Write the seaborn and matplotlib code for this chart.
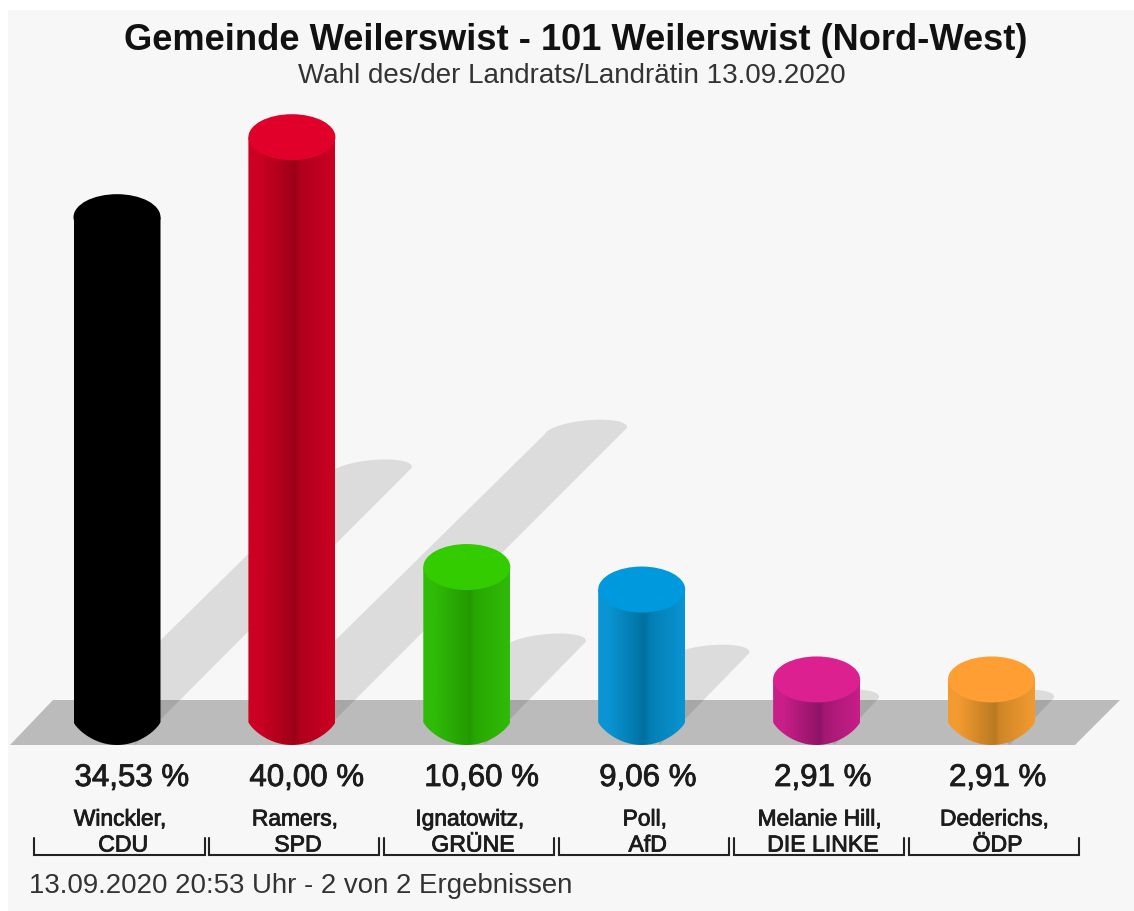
import numpy as np
import pandas as pd
import matplotlib
matplotlib.use("Agg")
import matplotlib.pyplot as plt
import matplotlib.patheffects as pe
from matplotlib.colors import LinearSegmentedColormap, to_rgb
from matplotlib.path import Path
from matplotlib.patches import Ellipse, PathPatch, Polygon, Rectangle
import seaborn as sns

title = "Gemeinde Weilerswist - 101 Weilerswist (Nord-West)"
subtitle = "Wahl des/der Landrats/Landrätin 13.09.2020"
footer = "13.09.2020 20:53 Uhr - 2 von 2 Ergebnissen"
candidates = ["Winckler,", "Ramers,", "Ignatowitz,", "Poll,", "Melanie Hill,", "Dederichs,"]
parties = ["CDU", "SPD", "GRÜNE", "AfD", "DIE LINKE", "ÖDP"]
values = [34.53, 40.00, 10.60, 9.06, 2.91, 2.91]
value_labels = ["34,53 %", "40,00 %", "10,60 %", "9,06 %", "2,91 %", "2,91 %"]
top_colors = ["#000000", "#e0002a", "#33cc00", "#0099dd", "#dd2090", "#ff9f33"]
side_colors = ["#000000", "#cc0022", "#30bb08", "#0a94d3", "#c81e88", "#f39a30"]
dark_colors = ["#000000", "#9c0018", "#239a00", "#00709f", "#8e1466", "#b97a22"]

W, H = 1134, 911
SPACING = 174.9      # px between categories
X0 = 117.0           # px of first category
Y0 = 722.0           # px of value 0
PXY = 14.62          # px per percent
BAR_W = 87 / SPACING
ELL_H = 46 / PXY


def xp(px):
    return (px - X0) / SPACING


def yp(py):
    return (Y0 - py) / PXY


def dx(px):
    return px / SPACING


def dy(px):
    return px / PXY


sns.set_theme(style="white")
plt.rcParams["font.family"] = ["Liberation Sans", "DejaVu Sans"]
fig = plt.figure(figsize=(W / 100, H / 100), dpi=100, facecolor="white")
ax = fig.add_axes([0, 0, 1, 1])
ax.set_facecolor("none")

df = pd.DataFrame({"party": parties, "value": values})
sns.barplot(data=df, x="party", y="value", hue="party", palette=side_colors,
            width=BAR_W, saturation=1, legend=False, ax=ax, zorder=5)
bars = [p for p in ax.patches if isinstance(p, Rectangle)]
ax.set_xlim(xp(0), xp(W))
ax.set_ylim(yp(H), yp(0))
ax.set_axis_off()

# page + floor
ax.add_patch(Rectangle((xp(8), yp(H)), xp(W) - xp(8), yp(10) - yp(H), fc="#f7f7f7", ec="none", zorder=0))
ax.add_patch(Polygon([(xp(10), yp(745)), (xp(1075), yp(745)), (xp(1120), yp(700)), (xp(53), yp(700))],
                     closed=True, fc="#bbbbbb", ec="none", zorder=1))

# shadows: sheared copy of each bar, starting behind the bar
SX = 0.5026 * PXY / SPACING
SY = 0.4975
t = np.linspace(0, np.pi, 40)
for i, v in enumerate(values):
    cx, cy = i + SX * v, SY * v
    capx = cx + dx(41) * np.cos(t) + dx(4) * np.sin(t)
    capy = cy + dy(3) * np.cos(t) + dy(11) * np.sin(t)
    xs = [i + dx(18), *capx]
    ys = [-dy(23), *capy]
    if capy[-1] > dy(39):
        xs.append(i)
        ys.append(dy(39))
    ax.add_patch(Polygon(np.c_[xs, ys], closed=True, fc="black", alpha=0.105, ec="none", zorder=2))

# cylinders
for i, (bar, v) in enumerate(zip(bars, values)):
    x0, w = bar.get_x(), bar.get_width()
    mid = tuple((np.array(to_rgb(side_colors[i])) * 0.4 + np.array(to_rgb(dark_colors[i])) * 0.6))
    cmap = LinearSegmentedColormap.from_list(
        f"c{i}", [(0, side_colors[i]), (0.12, side_colors[i]), (0.54, dark_colors[i]),
                  (0.60, mid), (1, side_colors[i])])
    bar.set_visible(False)
    tt = np.linspace(0, np.pi, 60)
    u = np.cos(tt)
    bx = x0 + w / 2 + w / 2 * u
    by = -ELL_H / 2 * np.clip(1 - u ** 2, 0, 1) ** 0.8
    verts = np.r_[[[x0 + w, v]], np.c_[bx, by], [[x0, v]], [[x0 + w, v]]]
    clip = PathPatch(Path(verts), transform=ax.transData, fc="none", ec="none")
    ax.add_patch(clip)
    im = ax.imshow(np.linspace(0, 1, 256)[None, :], cmap=cmap, aspect="auto",
                   extent=(x0, x0 + w, -ELL_H, v), zorder=5, interpolation="bilinear")
    im.set_clip_path(clip)
    ax.add_patch(Ellipse((x0 + w / 2, v), w, ELL_H, fc=top_colors[i], ec="none", zorder=6))
ax.set_xlim(xp(0), xp(W))
ax.set_ylim(yp(H), yp(0))

TXT = "#1c1c1c"
semi = [pe.withStroke(linewidth=0.6, foreground=TXT)]
ax.text(xp(575.5), yp(41), title, ha="center", va="center", fontsize=26.1, fontweight="bold", color="#111111")
ax.text(xp(572), yp(76), subtitle, ha="center", va="center", fontsize=20, color="#333333")
for i in range(len(values)):
    ax.text(i - BAR_W / 2 + dx(1), yp(778), value_labels[i], ha="left", va="center",
            fontsize=22.5, color=TXT, path_effects=semi)
    ax.text(i + dx(3), yp(819), candidates[i], ha="center", va="center",
            fontsize=16.4, color=TXT, path_effects=semi)
    ax.text(i + dx(6), yp(845), parties[i], ha="center", va="center",
            fontsize=16.6, color=TXT, path_effects=semi)
    bl, br = i - dx(83), i + dx(87.5)
    ax.plot([bl, bl, br, br], [yp(838), yp(855), yp(855), yp(838)], color="#222222", lw=1.5,
            solid_joinstyle="miter", zorder=4)
ax.text(xp(29), yp(886), footer, ha="left", va="center", fontsize=19.9, color="#333333")

fig.savefig("out.png", dpi=100, facecolor="white")
